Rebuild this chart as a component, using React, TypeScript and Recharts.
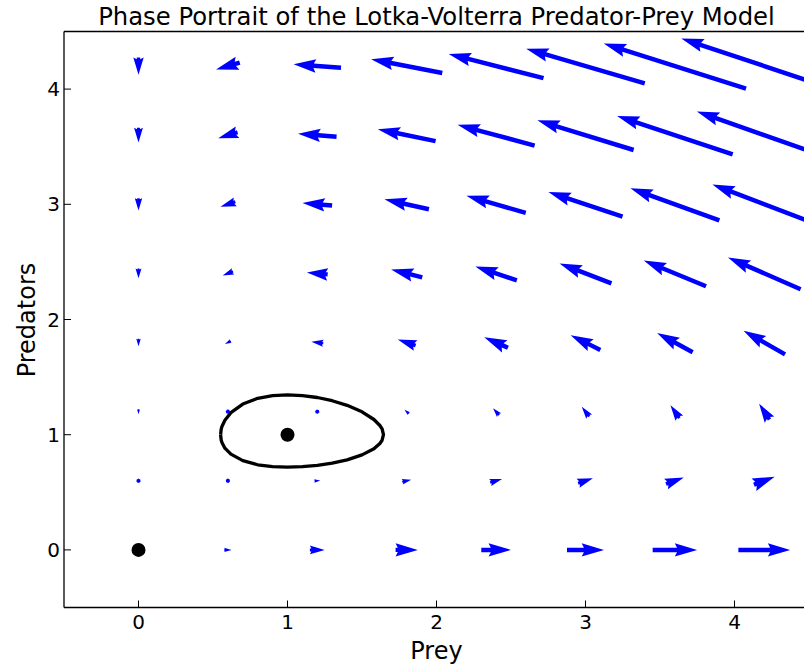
import React from "react";
import { ScatterChart, Scatter, XAxis, YAxis } from "recharts";

// grid of sample points (prey on x, predators on y)
const gridPrey = [0, 0.6, 1.2, 1.8, 2.4, 3.0, 3.6, 4.2];
const gridPred = [0, 0.6, 1.2, 1.8, 2.4, 3.0, 3.6, 4.2];

// d(prey)/dt, one row per predator level in gridPred
const preyRate = [
  [0, 0.6, 1.2, 1.8, 2.4, 3.0, 3.6, 4.2],
  [0, 0.24, 0.48, 0.72, 0.96, 1.2, 1.44, 1.68],
  [0, -0.12, -0.24, -0.36, -0.48, -0.6, -0.72, -0.84],
  [0, -0.48, -0.96, -1.44, -1.92, -2.4, -2.88, -3.36],
  [0, -0.84, -1.68, -2.52, -3.36, -4.2, -5.04, -5.88],
  [0, -1.2, -2.4, -3.6, -4.8, -6.0, -7.2, -8.4],
  [0, -1.56, -3.12, -4.68, -6.24, -7.8, -9.36, -10.92],
  [0, -1.92, -3.84, -5.76, -7.68, -9.6, -11.52, -13.44],
];

// d(predators)/dt, same layout
const predRate = [
  [0, 0, 0, 0, 0, 0, 0, 0],
  [-0.2, -0.08, 0.04, 0.16, 0.28, 0.4, 0.52, 0.64],
  [-0.4, -0.16, 0.08, 0.32, 0.56, 0.8, 1.04, 1.28],
  [-0.6, -0.24, 0.12, 0.48, 0.84, 1.2, 1.56, 1.92],
  [-0.8, -0.32, 0.16, 0.64, 1.12, 1.6, 2.08, 2.56],
  [-1.0, -0.4, 0.2, 0.8, 1.4, 2.0, 2.6, 3.2],
  [-1.2, -0.48, 0.24, 0.96, 1.68, 2.4, 3.12, 3.84],
  [-1.4, -0.56, 0.28, 1.12, 1.96, 2.8, 3.64, 4.48],
];

// closed trajectory around (1, 1)
const orbitPrey = [0.551, 0.555, 0.56, 0.58, 0.62, 0.7, 0.8, 0.9, 1.0, 1.1, 1.2, 1.3, 1.4, 1.5, 1.58, 1.62, 1.635, 1.644,
  1.635, 1.62, 1.58, 1.5, 1.4, 1.3, 1.2, 1.1, 1.0, 0.9, 0.8, 0.7, 0.62, 0.58, 0.56, 0.555, 0.551];
const orbitPred = [1.0, 1.048, 1.071, 1.126, 1.191, 1.266, 1.316, 1.34, 1.346, 1.34, 1.323, 1.295, 1.255, 1.199, 1.132, 1.08, 1.05, 1.0,
  0.952, 0.924, 0.878, 0.825, 0.782, 0.754, 0.734, 0.723, 0.719, 0.723, 0.739, 0.775, 0.831, 0.883, 0.932, 0.954, 1.0];

const eqPrey = [0, 1];
const eqPred = [0, 1];

const ticks = [0, 1, 2, 3, 4];
const domain: [number, number] = [-0.5, 4.5];

const quiverData = gridPred.flatMap((y, j) =>
  gridPrey.map((x, i) => ({ x, y, u: preyRate[j][i], v: predRate[j][i] }))
);
const orbitData = orbitPrey.map((x, i) => ({ x, y: orbitPred[i] }));
const eqData = eqPrey.map((x, i) => ({ x, y: eqPred[i] }));

const SHAFT = 4.47; // shaft width, px
const PX_PER_UNIT = 12.35; // arrow length per unit of rate

// matplotlib-style quiver arrow, pivot in the middle
function QuiverArrow(props: any) {
  const { cx, cy, payload } = props;
  if (cx == null || cy == null) return <g />;
  const len = (Math.hypot(payload.u, payload.v) * PX_PER_UNIT) / SHAFT;
  let xs: number[];
  let ys: number[];
  if (len < 1) {
    xs = [];
    ys = [];
    for (let k = 0; k < 6; k++) {
      xs.push(0.5 * Math.cos((k * Math.PI) / 3));
      ys.push(0.5 * Math.sin((k * Math.PI) / 3));
    }
  } else if (len >= 5) {
    xs = [0, len - 4.5, len - 5, len, len - 5, len - 4.5, 0].map((d) => d - len / 2);
    ys = [0.5, 0.5, 1.5, 0, -1.5, -0.5, -0.5];
  } else {
    const s = len / 5;
    xs = [0, 0.5, 0, 5, 0, 0.5, 0].map((d) => d * s - len / 2);
    ys = [0.5, 0.5, 1.5, 0, -1.5, -0.5, -0.5].map((d) => d * s);
  }
  const th = Math.atan2(payload.v, payload.u);
  const c = Math.cos(th);
  const sn = Math.sin(th);
  const pts = xs
    .map((x, k) => `${cx + (x * c - ys[k] * sn) * SHAFT},${cy - (x * sn + ys[k] * c) * SHAFT}`)
    .join(" ");
  return <polygon points={pts} fill="#0000ff" />;
}

const font = "'DejaVu Sans', sans-serif";
const tickStyle = { fill: "#000", fontSize: 20, fontFamily: font };
const axisLine = { stroke: "#000", strokeWidth: 1.3 };
const tickLine = { stroke: "#000", strokeWidth: 1 };

export default function App() {
  return (
    <div
      style={{
        position: "absolute", left: 0, top: 0, width: 804, height: 668,
        overflow: "hidden", background: "#fff", fontFamily: font,
      }}
    >
      <ScatterChart width={840} height={668} margin={{ top: 30.5, right: 30, bottom: 30.5, left: 4 }}>
        <XAxis
          xAxisId="b" dataKey="x" type="number" domain={domain} ticks={ticks} allowDataOverflow
          height={30} tickSize={-7} tickMargin={14} tick={tickStyle} axisLine={axisLine} tickLine={tickLine}
        />
        <XAxis
          xAxisId="t" orientation="top" dataKey="x" type="number" domain={domain} ticks={ticks} allowDataOverflow
          height={1} tickSize={-7} tick={false} axisLine={axisLine} tickLine={tickLine}
        />
        <YAxis
          yAxisId="l" dataKey="y" type="number" domain={domain} ticks={ticks} allowDataOverflow
          width={60} tickSize={-7} tickMargin={11} tick={tickStyle} axisLine={axisLine} tickLine={tickLine}
        />
        <YAxis
          yAxisId="r" orientation="right" dataKey="y" type="number" domain={domain} ticks={ticks} allowDataOverflow
          width={1} tickSize={-7} tick={false} axisLine={axisLine} tickLine={tickLine}
        />
        <Scatter
          xAxisId="b" yAxisId="l" data={quiverData} shape={QuiverArrow} isAnimationActive={false}
        />
        <Scatter
          xAxisId="b" yAxisId="l" data={orbitData} isAnimationActive={false}
          line={{ stroke: "#000", strokeWidth: 3.3, strokeLinejoin: "round" }} lineJointType="linear"
          shape={() => <g />}
        />
        <Scatter
          xAxisId="b" yAxisId="l" data={eqData} isAnimationActive={false}
          shape={(p: any) => <circle cx={p.cx} cy={p.cy} r={7} fill="#000" />}
        />
      </ScatterChart>

      <div
        style={{
          position: "absolute", left: 0, top: 4.7, width: 873, textAlign: "center",
          fontSize: 24.3, lineHeight: "24px", color: "#000", whiteSpace: "nowrap",
        }}
      >
        Phase Portrait of the Lotka-Volterra Predator-Prey Model
      </div>
      <div
        style={{
          position: "absolute", left: 0, top: 639.2, width: 873, textAlign: "center",
          fontSize: 24, lineHeight: "24px", color: "#000",
        }}
      >
        Prey
      </div>
      <div
        style={{
          position: "absolute", left: 26.7 - 100, top: 319.5 - 12, width: 200, height: 24,
          textAlign: "center", fontSize: 24, lineHeight: "24px", color: "#000",
          transform: "rotate(-90deg)",
        }}
      >
        Predators
      </div>
    </div>
  );
}
